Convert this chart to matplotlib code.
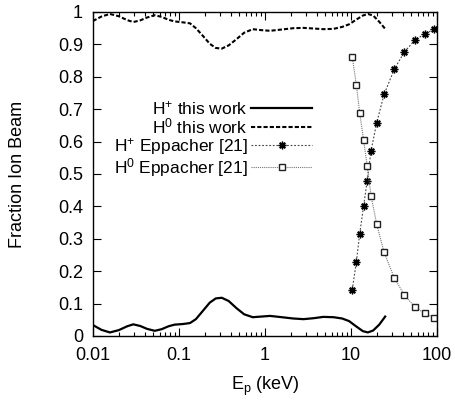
import matplotlib
matplotlib.use('Agg')
import matplotlib.pyplot as plt
from matplotlib.ticker import FixedLocator, FixedFormatter, LogLocator, NullFormatter

plt.rcParams['font.family'] = ['Liberation Sans', 'DejaVu Sans']
plt.rcParams['mathtext.fontset'] = 'custom'
plt.rcParams['mathtext.rm'] = 'Liberation Sans'
plt.rcParams['mathtext.it'] = 'Liberation Sans'

# charge fractions from this work, energy in keV
e_work = [0.01, 0.0126, 0.0158, 0.02, 0.0251, 0.0295, 0.0355, 0.0427, 0.0525,
          0.0631, 0.0759, 0.0891, 0.112, 0.135, 0.158, 0.191, 0.229, 0.269,
          0.316, 0.380, 0.468, 0.575, 0.724, 0.912, 1.15, 1.58, 2.14, 2.82,
          3.72, 4.79, 6.31, 7.94, 9.55, 11.5, 13.8, 15.8, 18.2, 21.4, 25.1]
hplus_work = [0.034, 0.019, 0.011, 0.018, 0.030, 0.036, 0.031, 0.022, 0.016,
              0.021, 0.030, 0.035, 0.037, 0.040, 0.052, 0.078, 0.103, 0.116,
              0.118, 0.108, 0.086, 0.067, 0.058, 0.060, 0.062, 0.058, 0.054,
              0.052, 0.055, 0.059, 0.058, 0.054, 0.046, 0.030, 0.015, 0.011,
              0.017, 0.035, 0.060]
hzero_work = [0.972, 0.986, 0.994, 0.987, 0.975, 0.969, 0.974, 0.983, 0.990,
              0.985, 0.976, 0.971, 0.968, 0.965, 0.950, 0.926, 0.902, 0.889,
              0.887, 0.897, 0.916, 0.936, 0.947, 0.944, 0.942, 0.946, 0.950,
              0.951, 0.949, 0.947, 0.948, 0.954, 0.962, 0.976, 0.989, 0.994,
              0.989, 0.970, 0.948]

# Eppacher [21]
e_epp = [10.4, 11.6, 12.7, 14.1, 15.5, 17.2, 20.0, 24.4, 32.0, 42.0, 56.0, 72.0, 94.0]
hplus_epp = [0.143, 0.229, 0.316, 0.401, 0.479, 0.572, 0.658, 0.746, 0.823,
             0.877, 0.914, 0.932, 0.947]
hzero_epp = [0.862, 0.775, 0.687, 0.604, 0.525, 0.433, 0.345, 0.258, 0.180,
             0.126, 0.089, 0.070, 0.056]

fig = plt.figure(figsize=(4.55, 4.0), dpi=100)
ax = fig.add_axes([0.204, 0.16, 0.756, 0.81])

ax.plot(e_work, hplus_work, color='black', lw=1.6, label='H$^{+}$ this work')
ax.plot(e_work, hzero_work, color='black', lw=1.5, dashes=(2.0, 1.0),
        label='H$^{0}$ this work')
ax.plot(e_epp, hplus_epp, color='#444444', lw=0.8, dashes=(1.6, 1.6),
        marker=(8, 2, 0), ms=5.5, mec='black', mew=1.0,
        label='H$^{+}$ Eppacher [21]')
ax.plot(e_epp, hzero_epp, color='#777777', lw=0.8, dashes=(1.0, 0.9),
        marker='s', ms=4.5, mfc='white', mec='#222222', mew=1.0,
        label='H$^{0}$ Eppacher [21]')

ax.set_xscale('log')
ax.set_xlim(0.01, 100)
ax.set_ylim(0, 1)
ax.xaxis.set_major_locator(FixedLocator([0.01, 0.1, 1, 10, 100]))
ax.xaxis.set_major_formatter(FixedFormatter(['0.01', '0.1', '1', '10', '100']))
ax.xaxis.set_minor_locator(LogLocator(base=10, subs=range(2, 10)))
ax.xaxis.set_minor_formatter(NullFormatter())
yt = [i / 10 for i in range(11)]
ax.set_yticks(yt)
ax.set_yticklabels(['0', '0.1', '0.2', '0.3', '0.4', '0.5', '0.6', '0.7',
                    '0.8', '0.9', '1'])
ax.tick_params(which='both', direction='in', top=True, right=True,
               labelsize=13, width=0.8)
ax.tick_params(which='major', length=6)
ax.tick_params(axis='x', which='major', pad=8)
ax.tick_params(axis='y', which='major', pad=7)
ax.tick_params(which='minor', length=3)
for s in ax.spines.values():
    s.set_linewidth(1.0)

ax.set_xlabel('E$_{\\mathrm{p}}$ (keV)', fontsize=13, labelpad=8)
ax.set_ylabel('Fraction Ion Beam', fontsize=13, labelpad=23)

ax.legend(loc='upper right', bbox_to_anchor=(0.637, 0.73), frameon=False,
          markerfirst=False, numpoints=1, fontsize=12.5, handlelength=3.5,
          handletextpad=0.2, labelspacing=-0.05, borderaxespad=0,
          borderpad=0)

fig.savefig('out.png', dpi=100)
